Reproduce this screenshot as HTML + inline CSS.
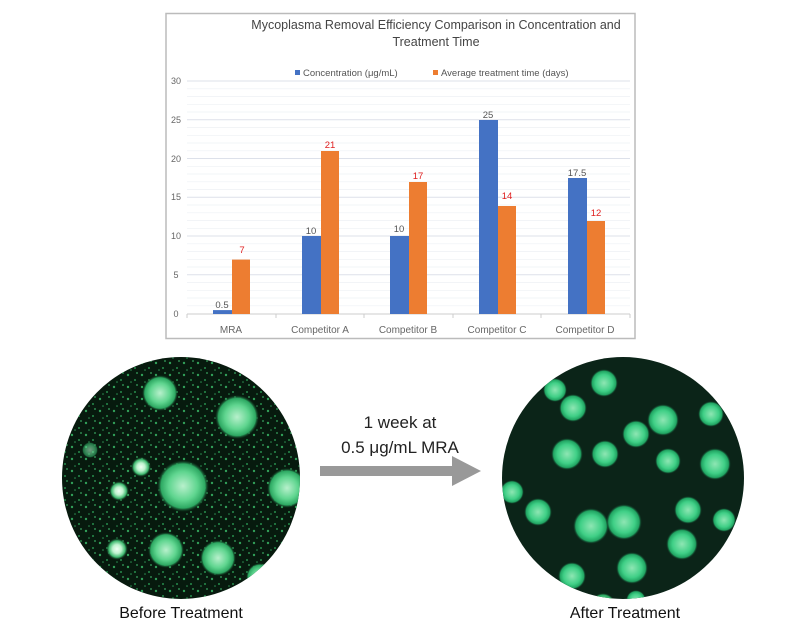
<!DOCTYPE html>
<html><head><meta charset="utf-8"><style>
body{margin:0;background:#fff;width:800px;height:633px;overflow:hidden;font-family:"Liberation Sans",sans-serif}
</style></head><body>
<svg width="800" height="633" viewBox="0 0 800 633" xmlns="http://www.w3.org/2000/svg" font-family="Liberation Sans, sans-serif">
<defs>
<radialGradient id="cell" cx="50%" cy="50%" r="50%">
<stop offset="0" stop-color="#b8f0cc"/><stop offset="0.55" stop-color="#5fd58f"/><stop offset="0.85" stop-color="#2da862"/><stop offset="1" stop-color="#0f3a20" stop-opacity="0"/>
</radialGradient>
<radialGradient id="cell2" cx="50%" cy="50%" r="50%">
<stop offset="0" stop-color="#8ee6b3"/><stop offset="0.6" stop-color="#3fcf86"/><stop offset="0.85" stop-color="#21a462"/><stop offset="1" stop-color="#0e3322" stop-opacity="0"/>
</radialGradient>
<radialGradient id="bright" cx="50%" cy="50%" r="50%">
<stop offset="0" stop-color="#f0fff4"/><stop offset="0.4" stop-color="#bff3cf"/><stop offset="0.75" stop-color="#3db86e"/><stop offset="1" stop-color="#0f3a20" stop-opacity="0"/>
</radialGradient>
<clipPath id="cl"><ellipse cx="181" cy="478" rx="119" ry="121"/></clipPath>
<clipPath id="cr"><ellipse cx="623" cy="478" rx="121" ry="121"/></clipPath>
<pattern id="dots" width="14" height="12" patternUnits="userSpaceOnUse">
<circle cx="2" cy="3" r="1.2" fill="#3cbf6a"/><circle cx="9" cy="8" r="1" fill="#2fa85c"/><circle cx="11" cy="1" r="0.9" fill="#44c874"/><circle cx="5" cy="10" r="0.8" fill="#35b064"/>
</pattern>
</defs>
<!-- chart frame -->
<rect x="166" y="13.5" width="469" height="325" fill="#fff" stroke="#bbb" stroke-width="1.5"/>
<text x="436" y="29" font-size="12.5" fill="#444" text-anchor="middle">Mycoplasma Removal Efficiency Comparison in Concentration and</text>
<text x="436" y="46" font-size="12.5" fill="#444" text-anchor="middle">Treatment Time</text>
<rect x="295" y="70" width="5" height="5" fill="#4472c4"/>
<text x="303" y="76" font-size="9.5" fill="#555">Concentration (μg/mL)</text>
<rect x="433" y="70" width="5" height="5" fill="#ed7d31"/>
<text x="441" y="76" font-size="9.5" fill="#555">Average treatment time (days)</text>
<g stroke="#eef0f4" stroke-width="0.7">
<line x1="187" x2="630" y1="88.8" y2="88.8"/><line x1="187" x2="630" y1="96.5" y2="96.5"/><line x1="187" x2="630" y1="104.3" y2="104.3"/><line x1="187" x2="630" y1="112" y2="112"/>
<line x1="187" x2="630" y1="127.6" y2="127.6"/><line x1="187" x2="630" y1="135.3" y2="135.3"/><line x1="187" x2="630" y1="143" y2="143"/><line x1="187" x2="630" y1="150.8" y2="150.8"/>
<line x1="187" x2="630" y1="166.3" y2="166.3"/><line x1="187" x2="630" y1="174" y2="174"/><line x1="187" x2="630" y1="181.8" y2="181.8"/><line x1="187" x2="630" y1="189.5" y2="189.5"/>
<line x1="187" x2="630" y1="205" y2="205"/><line x1="187" x2="630" y1="212.8" y2="212.8"/><line x1="187" x2="630" y1="220.5" y2="220.5"/><line x1="187" x2="630" y1="228.3" y2="228.3"/>
<line x1="187" x2="630" y1="243.8" y2="243.8"/><line x1="187" x2="630" y1="251.5" y2="251.5"/><line x1="187" x2="630" y1="259.3" y2="259.3"/><line x1="187" x2="630" y1="267" y2="267"/>
<line x1="187" x2="630" y1="282.5" y2="282.5"/><line x1="187" x2="630" y1="290.3" y2="290.3"/><line x1="187" x2="630" y1="298" y2="298"/><line x1="187" x2="630" y1="305.8" y2="305.8"/>
</g>
<g stroke="#dde1ea" stroke-width="1">
<line x1="187" x2="630" y1="81" y2="81"/><line x1="187" x2="630" y1="119.8" y2="119.8"/><line x1="187" x2="630" y1="158.5" y2="158.5"/><line x1="187" x2="630" y1="197.3" y2="197.3"/><line x1="187" x2="630" y1="236" y2="236"/><line x1="187" x2="630" y1="274.8" y2="274.8"/>
</g>
<line x1="187" x2="630" y1="314" y2="314" stroke="#ccc"/>
<g stroke="#ccc"><line x1="187" x2="187" y1="314" y2="318"/><line x1="276" x2="276" y1="314" y2="318"/><line x1="364" x2="364" y1="314" y2="318"/><line x1="453" x2="453" y1="314" y2="318"/><line x1="541" x2="541" y1="314" y2="318"/><line x1="630" x2="630" y1="314" y2="318"/></g>
<g font-size="9" fill="#666" text-anchor="middle">
<text x="176" y="84">30</text><text x="176" y="123">25</text><text x="176" y="162">20</text><text x="176" y="200">15</text><text x="176" y="239">10</text><text x="176" y="278">5</text><text x="176" y="317">0</text>
</g>
<g fill="#4472c4">
<rect x="213" y="310.1" width="19" height="3.9"/>
<rect x="302" y="236" width="19" height="78"/>
<rect x="390" y="236" width="19" height="78"/>
<rect x="479" y="120" width="19" height="194"/>
<rect x="568" y="178" width="19" height="136"/>
</g>
<g fill="#ed7d31">
<rect x="232" y="259.6" width="18" height="54.4"/>
<rect x="321" y="151" width="18" height="163"/>
<rect x="409" y="182" width="18" height="132"/>
<rect x="498" y="206" width="18" height="108"/>
<rect x="587" y="221" width="18" height="93"/>
</g>
<g font-size="9.5" fill="#555" text-anchor="middle">
<text x="222" y="308">0.5</text><text x="311" y="234">10</text><text x="399" y="232">10</text><text x="488" y="118">25</text><text x="577" y="176">17.5</text>
</g>
<g font-size="9.5" fill="#e02020" text-anchor="middle">
<text x="242" y="253">7</text><text x="330" y="148">21</text><text x="418" y="179">17</text><text x="507" y="199">14</text><text x="596" y="216">12</text>
</g>
<g font-size="10" fill="#666" text-anchor="middle">
<text x="231" y="333">MRA</text><text x="320" y="333">Competitor A</text><text x="408" y="333">Competitor B</text><text x="497" y="333">Competitor C</text><text x="585" y="333">Competitor D</text>
</g>
<!-- left circle -->
<g clip-path="url(#cl)">
<rect x="60" y="355" width="245" height="250" fill="#071a0e"/>
<rect x="60" y="355" width="245" height="250" fill="url(#dots)" opacity="0.8"/>
<circle cx="160" cy="393" r="18" fill="url(#cell)"/>
<circle cx="237" cy="417" r="22" fill="url(#cell)"/>
<circle cx="141" cy="467" r="10" fill="url(#bright)"/>
<circle cx="119" cy="491" r="10" fill="url(#bright)"/>
<circle cx="117" cy="549" r="11" fill="url(#bright)"/>
<circle cx="183" cy="486" r="26" fill="url(#cell)"/>
<circle cx="287" cy="488" r="20" fill="url(#cell)"/>
<circle cx="166" cy="550" r="18" fill="url(#cell)"/>
<circle cx="218" cy="558" r="18" fill="url(#cell)"/>
<circle cx="260" cy="577" r="14" fill="url(#cell)"/>
<circle cx="90" cy="450" r="8" fill="url(#cell)" opacity=".6"/>
</g>
<!-- arrow -->
<rect x="320" y="466" width="135" height="10" fill="#999"/>
<polygon points="452,456 481,471 452,486" fill="#999"/>
<text x="400" y="428" font-size="17" fill="#222" text-anchor="middle">1 week at</text>
<text x="400" y="453" font-size="17" fill="#222" text-anchor="middle">0.5 μg/mL MRA</text>
<!-- right circle -->
<g clip-path="url(#cr)">
<rect x="500" y="355" width="250" height="250" fill="#0b2418"/>
<circle cx="604" cy="383" r="14" fill="url(#cell2)"/>
<circle cx="573" cy="408" r="14" fill="url(#cell2)"/>
<circle cx="555" cy="390" r="12" fill="url(#cell2)"/>
<circle cx="663" cy="420" r="16" fill="url(#cell2)"/>
<circle cx="711" cy="414" r="13" fill="url(#cell2)"/>
<circle cx="567" cy="454" r="16" fill="url(#cell2)"/>
<circle cx="636" cy="434" r="14" fill="url(#cell2)"/>
<circle cx="605" cy="454" r="14" fill="url(#cell2)"/>
<circle cx="668" cy="461" r="13" fill="url(#cell2)"/>
<circle cx="715" cy="464" r="16" fill="url(#cell2)"/>
<circle cx="512" cy="492" r="12" fill="url(#cell2)"/>
<circle cx="538" cy="512" r="14" fill="url(#cell2)"/>
<circle cx="591" cy="526" r="18" fill="url(#cell2)"/>
<circle cx="624" cy="522" r="18" fill="url(#cell2)"/>
<circle cx="682" cy="544" r="16" fill="url(#cell2)"/>
<circle cx="688" cy="510" r="14" fill="url(#cell2)"/>
<circle cx="724" cy="520" r="12" fill="url(#cell2)"/>
<circle cx="632" cy="568" r="16" fill="url(#cell2)"/>
<circle cx="528" cy="582" r="14" fill="url(#cell2)"/>
<circle cx="572" cy="576" r="14" fill="url(#cell2)"/>
<circle cx="603" cy="606" r="13" fill="url(#cell)"/>
<circle cx="636" cy="600" r="10" fill="url(#cell2)"/>
</g>
<text x="181" y="618" font-size="16" fill="#111" text-anchor="middle">Before Treatment</text>
<text x="625" y="618" font-size="16" fill="#111" text-anchor="middle">After Treatment</text>
</svg>
</body></html>
